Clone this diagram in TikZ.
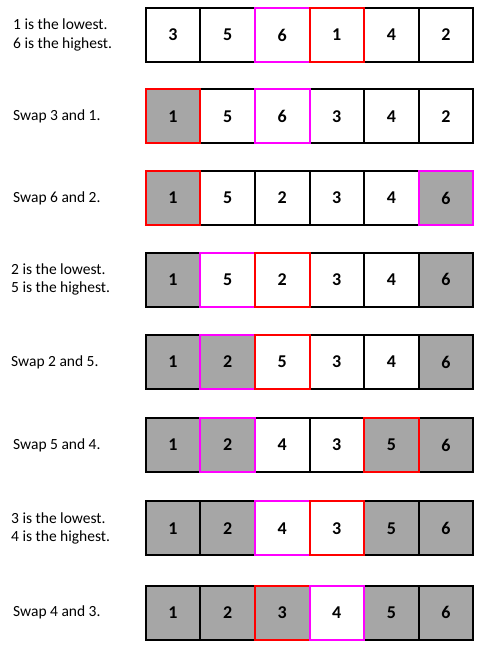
\documentclass[tikz,border=0pt]{standalone}
\usepackage{fontspec}
\setmainfont{Carlito}[BoldFont={Carlito Bold}]
\definecolor{cellgray}{HTML}{A6A6A6}
\definecolor{magb}{HTML}{FF00FF}
\definecolor{redb}{HTML}{FF0000}
\tikzset{
  cell/.style={draw=black, line width=2pt, minimum width=54.6pt, minimum height=54pt,
    inner sep=0pt, outer sep=0pt, font=\fontsize{18}{20}\selectfont\bfseries},
  lbl/.style={align=left, anchor=west, inner sep=0pt, font=\fontsize{15.5}{18.7}\selectfont},
  lowbox/.style={draw=redb, line width=2pt},
  highbox/.style={draw=magb, line width=2pt}
}
\begin{document}
\begin{tikzpicture}[x=1pt,y=-1pt]
\useasboundingbox (0,0) rectangle (485,652);
\foreach \r/\y/\vals in {
  1/35/{3/white,5/white,6/white,1/white,4/white,2/white},
  2/116.5/{1/cellgray,5/white,6/white,3/white,4/white,2/white},
  3/198/{1/cellgray,5/white,2/white,3/white,4/white,6/cellgray},
  4/279.5/{1/cellgray,5/white,2/white,3/white,4/white,6/cellgray},
  5/362/{1/cellgray,2/cellgray,5/white,3/white,4/white,6/cellgray},
  6/445/{1/cellgray,2/cellgray,4/white,3/white,5/cellgray,6/cellgray},
  7/528.3/{1/cellgray,2/cellgray,4/white,3/white,5/cellgray,6/cellgray},
  8/612.7/{1/cellgray,2/cellgray,3/cellgray,4/white,5/cellgray,6/cellgray}}{
  \foreach \v/\f [count=\c] in \vals {
    \node[cell, fill=\f] (r\r c\c) at ({145.7+54.6*(\c-0.5)}, \y) {\v};
  }
}
% highlighted borders
\draw[highbox] (r1c3.south west) rectangle (r1c3.north east);
\draw[lowbox]  (r1c4.south west) rectangle (r1c4.north east);
\draw[lowbox]  (r2c1.south west) rectangle (r2c1.north east);
\draw[highbox] (r2c3.south west) rectangle (r2c3.north east);
\draw[lowbox]  (r3c1.south west) rectangle (r3c1.north east);
\draw[highbox] (r3c6.south west) rectangle (r3c6.north east);
\draw[highbox] (r4c2.south west) rectangle (r4c2.north east);
\draw[lowbox]  (r4c3.south west) rectangle (r4c3.north east);
\draw[highbox] (r5c2.south west) rectangle (r5c2.north east);
\draw[lowbox]  (r5c3.south west) rectangle (r5c3.north east);
\draw[highbox] (r6c2.south west) rectangle (r6c2.north east);
\draw[lowbox]  (r6c5.south west) rectangle (r6c5.north east);
\draw[highbox] (r7c3.south west) rectangle (r7c3.north east);
\draw[lowbox]  (r7c4.south west) rectangle (r7c4.north east);
\draw[lowbox]  (r8c3.south west) rectangle (r8c3.north east);
\draw[highbox] (r8c4.south west) rectangle (r8c4.north east);
% labels
\node[lbl] (l1) at (13,35) {1 is the lowest.\\6 is the highest.};
\node[lbl] (l2) at (13,116.5) {Swap 3 and 1.};
\node[lbl] (l3) at (13,198) {Swap 6 and 2.};
\node[lbl] (l4) at (11,279.5) {2 is the lowest.\\5 is the highest.};
\node[lbl] (l5) at (11,362) {Swap 2 and 5.};
\node[lbl] (l6) at (13,445) {Swap 5 and 4.};
\node[lbl] (l7) at (11,528.3) {3 is the lowest.\\4 is the highest.};
\node[lbl] (l8) at (13,612.7) {Swap 4 and 3.};
\end{tikzpicture}
\end{document}
